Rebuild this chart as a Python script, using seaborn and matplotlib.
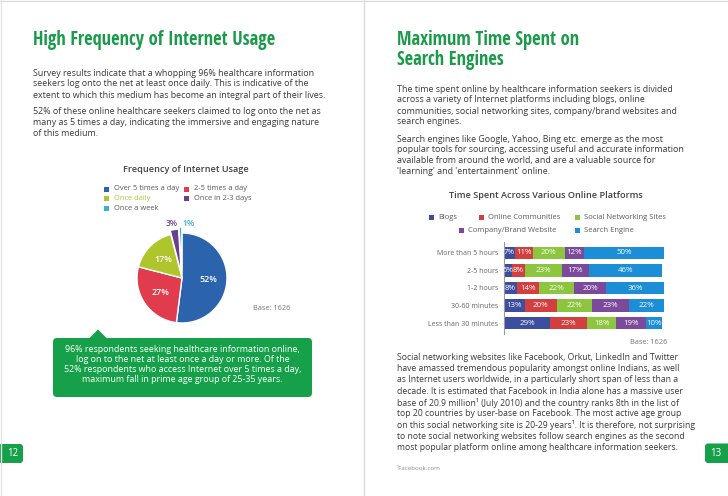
import os
import matplotlib
matplotlib.use("Agg")
import numpy as np
import pandas as pd
import seaborn as sns
import matplotlib.pyplot as plt
from matplotlib import font_manager as fm
from matplotlib.font_manager import FontProperties
from matplotlib.patches import FancyBboxPatch, Polygon, Rectangle

# ---------------- data ----------------
freq_labels = ["Over 5 times a day", "2-5 times a day", "Once daily",
               "Once in 2-3 days", "Once a week"]
freq_values = [52, 27, 17, 3, 1]
freq_colors = ["#2b63ad", "#e03c4e", "#afc52c", "#6a3f8e", "#35b2d5"]

periods = ["More than 5 hours", "2-5 hours", "1-2 hours",
           "30-60 minutes", "Less than 30 minutes"]
platforms = ["Blogs", "Online Communities", "Social Networking Sites",
             "Company/Brand Website", "Search Engine"]
blogs = [7, 5, 8, 13, 29]
communities = [11, 8, 14, 20, 23]
social = [20, 23, 22, 22, 18]
company = [12, 17, 20, 23, 19]
search = [50, 46, 36, 22, 10]
platform_colors = ["#3c4f9e", "#d1403f", "#8cc63e", "#7c4a9b", "#1b8ed6"]

# ---------------- style ----------------
sns.set_theme(style="white")
plt.rcParams["font.family"] = ["Open Sans", "DejaVu Sans"]

W, H = 728, 496
GREEN = "#1b9a4b"
BOXGREEN = "#16a04a"
TXT = "#3a3a3a"
SMALL = "#5a5a5a"

files = {os.path.basename(f): f for f in fm.findSystemFonts()}


def font_from(names, family, weight):
    for n in names:
        if n in files:
            return {"fontproperties": FontProperties(fname=files[n])}
    return {"family": family, "fontweight": weight}


TITLE_FONT = font_from(["OpenSans-CondBold.ttf", "LiberationSansNarrow-Bold.ttf"],
                       ["Liberation Sans Narrow", "DejaVu Sans"], "bold")
BODY = {"family": ["Open Sans", "DejaVu Sans"]}
BOLD = {"family": ["Open Sans", "DejaVu Sans"], "fontweight": "semibold"}

fig = plt.figure(figsize=(W / 100, H / 100), dpi=100)
fig.patch.set_facecolor("white")
R = fig.canvas.get_renderer()

ov = fig.add_axes([0, 0, 1, 1])
ov.set_xlim(0, W)
ov.set_ylim(H, 0)
ov.axis("off")
ov.set_zorder(0)


def fsize(s, width, font, base=10.0):
    t = ov.text(0, 0, s, fontsize=base, **font)
    w = t.get_window_extent(R).width
    t.remove()
    return base * width / w


def put(x, y, s, size, font=BODY, color=TXT, ha="left", va="center", **kw):
    return ov.text(x, y, s, fontsize=size, color=color, ha=ha, va=va, **font, **kw)


def para(x, ys, lines, width, font=BODY, color=TXT, ha="left"):
    size = min(fsize(l, width, font) for l in lines)
    for y, l in zip(ys, lines):
        put(x, y, l, size, font, color, ha=ha)
    return size


# ---------------- page frame ----------------
ov.plot([0, W], [0.5, 0.5], color="#dcdcdc", lw=1)
ov.plot([1, 1], [0, H], color="#e4e4e4", lw=1)
ov.plot([364, 364], [0, H], color="#dcdcdc", lw=1)

# ---------------- left page ----------------
tsize = fsize("High Frequency of Internet Usage", 243, TITLE_FONT)
put(33, 40, "High Frequency of Internet Usage", tsize, TITLE_FONT, GREEN)

left_lines = [
    "Survey results indicate that a whopping 96% healthcare information",
    "seekers log onto the net at least once daily. This is indicative of the",
    "extent to which this medium has become an integral part of their lives.",
    "52% of these online healthcare seekers claimed to log onto the net as",
    "many as 5 times a day, indicating the immersive and engaging nature",
    "of this medium.",
]
para(33, [73, 84, 95, 111, 122.5, 134], left_lines, 293)

s = fsize("Frequency of Internet Usage", 125, BOLD)
put(186, 169, "Frequency of Internet Usage", s, BOLD, "#404040", ha="center")

# legend (left)
lsize = fsize("Over 5 times a day", 65, BODY)
leg_pos = [(106, 189), (186, 189), (106, 198.5), (186, 198.5), (106, 208)]
for (x, y), lab, col in zip(leg_pos, freq_labels, freq_colors):
    ov.add_patch(Rectangle((x - 2, y - 2.5), 5, 5, color=col, lw=0))
    tc = col if lab == "Once daily" else SMALL
    put(x + 8, y, lab, lsize, BODY, tc)

# pie
cx, cy, r = 182, 278, 45
k = 1.45
pax = fig.add_axes([(cx - r * k) / W, 1 - (cy + r * k) / H, 2 * r * k / W, 2 * r * k / H])
pax.set_zorder(2)
pax.patch.set_visible(False)
explode = [0, 0, 0, 0.09, 0.13]
wedges, _ = pax.pie(freq_values, colors=freq_colors, startangle=90, counterclock=False,
                    explode=explode, wedgeprops=dict(edgecolor="white", linewidth=1.0))
pax.set_xlim(-k, k)
pax.set_ylim(-k, k)
pax.set_aspect("equal")
pax.axis("off")
psize = fsize("52%", 18, BOLD)
for w, v, col in zip(wedges, freq_values, freq_colors):
    ang = np.deg2rad((w.theta1 + w.theta2) / 2)
    if v >= 10:
        rr = 0.58
        pax.text(rr * np.cos(ang), rr * np.sin(ang), f"{v}%", color="white",
                 ha="center", va="center", fontsize=psize, **BOLD)
    else:
        rr = 1.22
        ha = "right" if v == 3 else "left"
        dx = 0.1 if v == 3 else 0.05
        pax.text(rr * np.cos(ang) + dx, rr * np.sin(ang), f"{v}%", color=col,
                 ha=ha, va="center", fontsize=psize * 0.95, **BOLD)

bsize = fsize("Base: 1626", 37, BODY)
put(253, 309, "Base: 1626", bsize, BODY, "#777777")

# callout
ov.add_patch(FancyBboxPatch((53, 338), 259, 59, boxstyle="round,pad=0,rounding_size=4",
                            color=BOXGREEN, lw=0))
ov.add_patch(Polygon([(89, 338.5), (98, 329.5), (107, 338.5)], closed=True, color=BOXGREEN, lw=0))
call_lines = [
    "96% respondents seeking healthcare information online,",
    "log on to the net at least once a day or more. Of the",
    "52% respondents who access Internet over 5 times a day,",
    "maximum fall in prime age group of 25-35 years.",
]
csize = fsize(call_lines[2], 237, BODY)
for y, l in zip([350, 360, 370, 380], call_lines):
    put(182.5, y, l, csize, BODY, "white", ha="center")

# page numbers
ov.add_patch(FancyBboxPatch((-6, 444), 29, 19, boxstyle="round,pad=0,rounding_size=3",
                            color=BOXGREEN, lw=0))
put(12.5, 453.5, "12", 7, BODY, "white", ha="center")
ov.add_patch(FancyBboxPatch((705, 443.5), 30, 19.5, boxstyle="round,pad=0,rounding_size=3",
                            color=BOXGREEN, lw=0))
put(716, 453.5, "13", 7, BODY, "white", ha="center")

# ---------------- right page ----------------
put(397, 40, "Maximum Time Spent on", tsize, TITLE_FONT, GREEN)
put(397, 60, "Search Engines", tsize, TITLE_FONT, GREEN)

right1 = [
    "The time spent online by healthcare information seekers is divided",
    "across a variety of Internet platforms including blogs, online",
    "communities, social networking sites, company/brand websites and",
    "search engines.",
    "Search engines like Google, Yahoo, Bing etc. emerge as the most",
    "popular tools for sourcing, accessing useful and accurate information",
    "available from around the world, and are a valuable source for",
    "'learning' and 'entertainment' online.",
]
para(397, [89, 100, 111, 122, 139, 150, 161, 172], right1, 287)

s = fsize("Time Spent Across Various Online Platforms", 192, BOLD)
put(546, 195, "Time Spent Across Various Online Platforms", s, BOLD, "#404040", ha="center")

rsize = fsize("Social Networking Sites", 82, BODY)
rleg = [(431, 217.7), (481, 217.7), (577, 217.7), (461, 230), (577, 230)]
for (x, y), lab, col in zip(rleg, platforms, platform_colors):
    ov.add_patch(Rectangle((x - 2.5, y - 2.5), 5, 5, color=col, lw=0))
    put(x + 7, y, lab, rsize, BODY, SMALL)

# stacked bars with seaborn (cumulative overlay)
df = pd.DataFrame({"period": periods, "Blogs": blogs, "Online Communities": communities,
                   "Social Networking Sites": social, "Company/Brand Website": company,
                   "Search Engine": search})
cum = df[platforms].cumsum(axis=1)

top, bot = 241.6, 334.4
bax = fig.add_axes([504 / W, 1 - bot / H, 160 / W, (bot - top) / H])
bax.set_zorder(2)
bax.patch.set_visible(False)
for p, col in reversed(list(zip(platforms, platform_colors))):
    sns.barplot(x=cum[p].values, y=df["period"], order=periods, color=col, orient="h",
                width=0.72, saturation=1, errorbar=None, ax=bax, linewidth=0)
bax.set_xlim(0, 100)
bax.set_ylim(4.65, -0.65)
bax.set_xlabel("")
bax.set_ylabel("")
bax.set_xticks([])
for sp in ["top", "right", "bottom"]:
    bax.spines[sp].set_visible(False)
bax.spines["left"].set_color("#9a9a9a")
bax.spines["left"].set_linewidth(0.8)
tk = fsize("Less than 30 minutes", 70, BODY)
bax.set_yticks(range(len(periods)))
bax.set_yticklabels(periods, fontsize=tk, color="#666666", family=["Open Sans", "DejaVu Sans"])
bax.tick_params(axis="y", length=0, pad=4.3)

lab_size = fsize("29%", 15.5, BODY)
for p in platforms:
    for i in range(len(periods)):
        v = df[p].iloc[i]
        c = cum[p].iloc[i] - v / 2
        bax.text(c, i, f"{v}%", color="white", ha="center", va="center",
                 fontsize=lab_size, **BODY)

put(667, 342.6, "Base: 1626", bsize, BODY, "#777777", ha="right")

right3 = [
    "Social networking websites like Facebook, Orkut, LinkedIn and Twitter",
    "have amassed tremendous popularity amongst online Indians, as well",
    "as Internet users worldwide, in a particularly short span of less than a",
    "decade. It is estimated that Facebook in India alone has a massive user",
    "base of 20.9 million\u00b9 (July 2010) and the country ranks 8th in the list of",
    "top 20 countries by user-base on Facebook. The most active age group",
    "on this social networking site is 20-29 years\u00b9. It is therefore, not surprising",
    "to note social networking websites follow search engines as the second",
    "most popular platform online among healthcare information seekers.",
]
para(397, [357.7, 368.9, 380, 391.3, 402.6, 413.8, 425, 436.2, 447.3], right3, 297)

fs = fsize("\u00b9Facebook.com", 43, BODY)
put(397, 468, "\u00b9Facebook.com", fs, BODY, "#8a8a8a")

fig.savefig("out.png", dpi=100, facecolor="white")
